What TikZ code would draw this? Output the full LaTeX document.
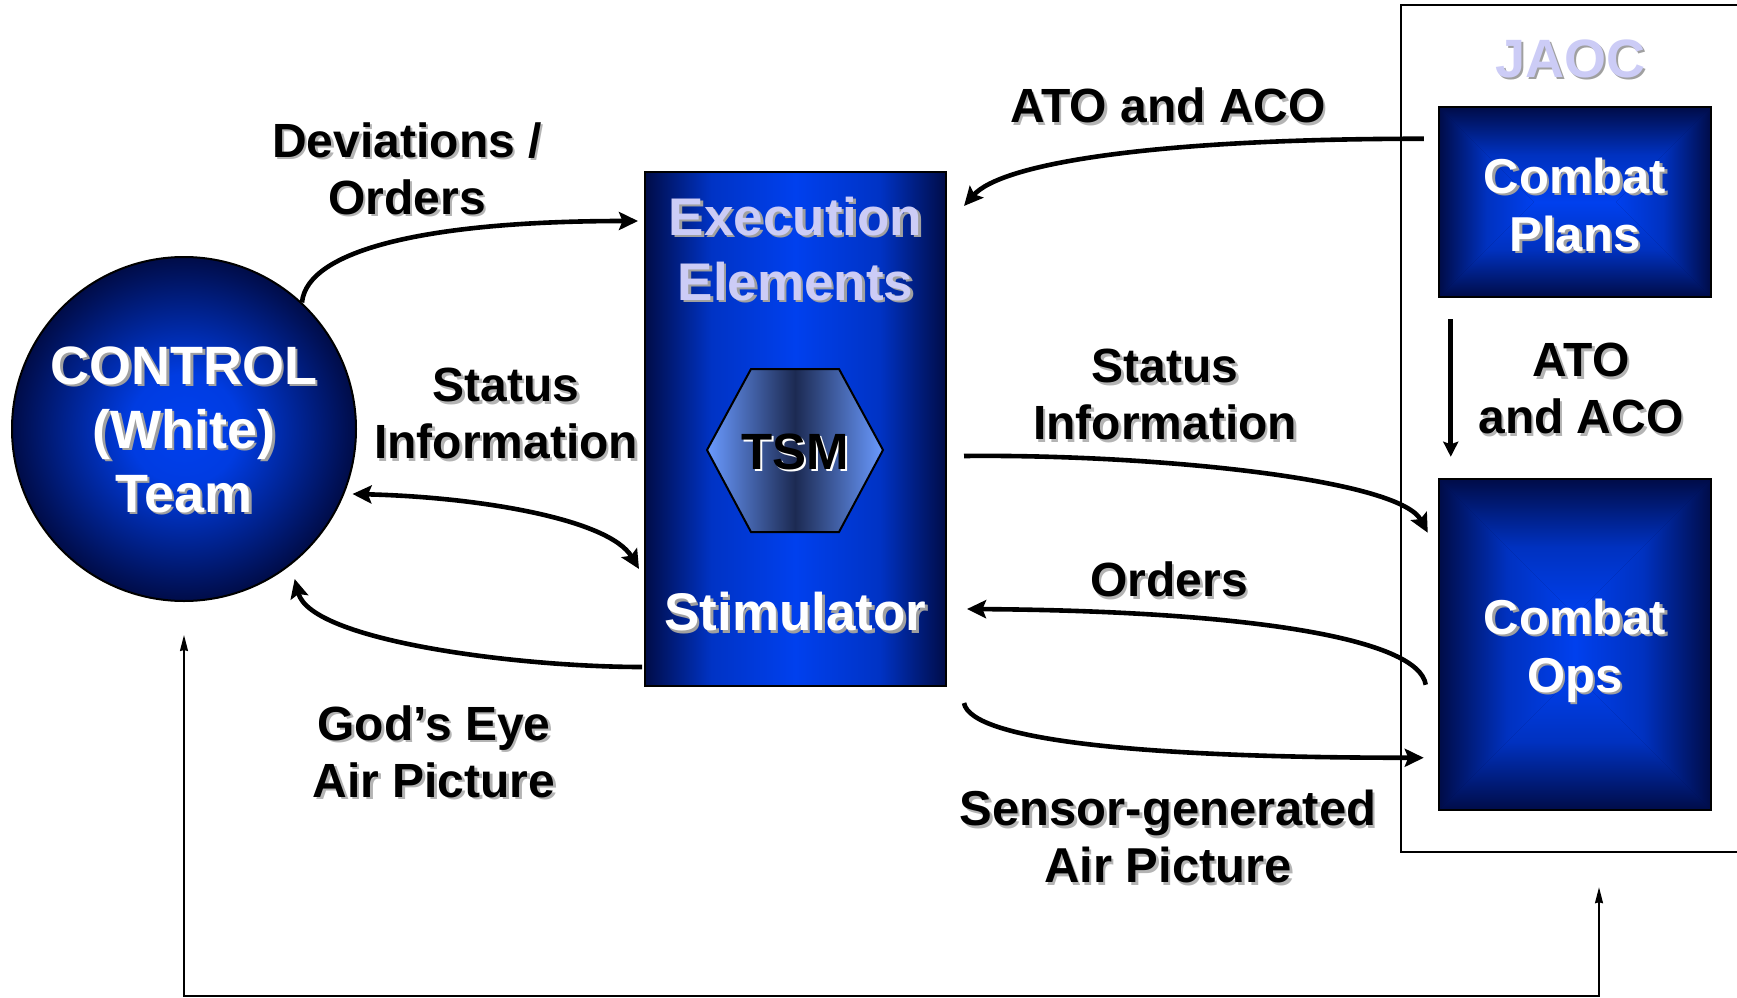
\documentclass[tikz,border=0pt]{standalone}
\usepackage{fontspec}
\setmainfont{Liberation Sans}
\usetikzlibrary{calc,arrows.meta}

\definecolor{navy}{HTML}{000C48}
\definecolor{brightblue}{HTML}{0040EE}
\definecolor{lav}{HTML}{CCCCF6}
\definecolor{boxsh}{HTML}{A0A0A0}
\definecolor{lblsh}{HTML}{B4B4B4}
\definecolor{hexlight}{HTML}{6A9AFF}
\definecolor{hexdark}{HTML}{1C2A52}

% text with a soft offset copy behind it
\newcommand\shadowed[2]{\makebox[0pt][l]{\hspace{2.5pt}\raisebox{-2.5pt}{\color{#1}#2}}#2}
\newcommand\lbltxt[1]{\shadowed{lblsh}{#1}}
\newcommand\boxtxt[1]{\shadowed{boxsh}{#1}}

% rectangular glow: four wedges shaded from the rim inwards
% #1,#2 = top left corner, #3,#4 = bottom right corner, #5 = depth
\newcommand\frameglow[5]{%
  \fill[navy] (#1,#2) rectangle (#3,#4);
  \path[top color=navy,bottom color=brightblue,middle color=brightblue!72!navy]
    (#1,#2) -- (#3,#2) -- ({#3-#5},{#2+#5}) -- ({#1+#5},{#2+#5}) -- cycle;
  \path[bottom color=navy,top color=brightblue,middle color=brightblue!72!navy]
    (#1,#4) -- (#3,#4) -- ({#3-#5},{#4-#5}) -- ({#1+#5},{#4-#5}) -- cycle;
  \path[left color=navy,right color=brightblue,middle color=brightblue!72!navy]
    (#1,#2) -- ({#1+#5},{#2+#5}) -- ({#1+#5},{#4-#5}) -- (#1,#4) -- cycle;
  \path[right color=navy,left color=brightblue,middle color=brightblue!72!navy]
    (#3,#2) -- ({#3-#5},{#2+#5}) -- ({#3-#5},{#4-#5}) -- (#3,#4) -- cycle;}

\pgfdeclarehorizontalshading{exeshade}{100bp}{%
  color(0bp)=(navy); color(25bp)=(navy); color(36bp)=(brightblue!75!navy);
  color(50bp)=(brightblue); color(64bp)=(brightblue!75!navy);
  color(75bp)=(navy); color(100bp)=(navy)}
\pgfdeclareradialshading{discglow}{\pgfpoint{0bp}{0bp}}{%
  color(0bp)=(brightblue); color(8bp)=(brightblue!92!navy);
  color(25bp)=(navy); color(50bp)=(navy)}

\begin{document}
\begin{tikzpicture}[x=1pt,y=-1pt,
  headtip/.tip={Stealth[length=19pt,width=18pt,inset=3.5pt]},
  smalltip/.tip={Stealth[length=15pt,width=15pt,inset=2.5pt]},
  thintip/.tip={Stealth[length=16pt,width=8pt,inset=1pt]},
  flow/.style={line width=4.6pt,-headtip},
  twoway/.style={line width=4.6pt,headtip-headtip},
  lbl/.style={font=\fontsize{48}{57}\selectfont\bfseries,align=center,inner sep=0pt,text=black},
  bluebox/.style={draw=black,line width=2.5pt,inner sep=0pt},
  wtext/.style={text=white,align=center,inner sep=0pt}]

\useasboundingbox (0,0) rectangle (1737,998);

% JAOC frame and its two cells
\node[draw=black,line width=2.5pt,minimum width=344pt,minimum height=847pt,inner sep=0pt] (jaoc) at (1573,428.5) {};
\node[font=\fontsize{54}{64}\selectfont\bfseries,text=lav,inner sep=0pt] (jaoctitle) at (1570,60) {\shadowed{boxsh}{JAOC}};

\frameglow{1439}{107}{1711}{297}{95}
\node[bluebox,minimum width=272pt,minimum height=190pt] (cp) at (1575,202) {};
\node[wtext,font=\fontsize{49}{58}\selectfont\bfseries] (cptext) at (1575,206) {\boxtxt{Combat}\\\boxtxt{Plans}};

\frameglow{1439}{479}{1711}{810}{136}
\node[bluebox,minimum width=272pt,minimum height=331pt] (co) at (1575,644.5) {};
\node[wtext,font=\fontsize{49}{58}\selectfont\bfseries] (cotext) at (1575,652) {\boxtxt{Combat}\\\boxtxt{Ops}};

% control team disc
\node[circle,draw=black,line width=2pt,minimum size=344pt,inner sep=0pt,shade,shading=discglow] (ctrl) at (184,429) {};
\node[wtext,font=\fontsize{54}{64}\selectfont\bfseries] (ctrltext) at (184,431) {\boxtxt{CONTROL}\\\boxtxt{(White)}\\\boxtxt{Team}};

% execution elements column with the TSM hexagon
\node[bluebox,shade,shading=exeshade,line width=2pt,minimum width=301pt,minimum height=514pt] (exe) at (795.5,429) {};
\node[font=\fontsize{53}{65}\selectfont\bfseries,text=lav,align=center,inner sep=0pt] (exetitle) at (795.5,250) {\boxtxt{Execution}\\\boxtxt{Elements}};
\node[wtext,font=\fontsize{53}{65}\selectfont\bfseries] (stim) at (795.5,613) {\boxtxt{Stimulator}};
\path[draw=black,line width=2pt,left color=hexlight,right color=hexlight,middle color=hexdark]
  (707,450) -- (751,369) -- (839,369) -- (883,450) -- (839,532) -- (751,532) -- cycle;
\node[font=\fontsize{51}{60}\selectfont\bfseries,text=black,inner sep=0pt] (tsm) at (795,453) {\shadowed{white}{TSM}};

% flow labels
\node[lbl] (devlbl) at (407,170) {\lbltxt{Deviations /}\\\lbltxt{Orders}};
\node[lbl] (statl) at (506,415) {\lbltxt{Status}\\\lbltxt{Information}};
\node[lbl] (godlbl) at (434,753) {\lbltxt{God’s Eye}\\\lbltxt{Air Picture}};
\node[lbl] (atolbl) at (1168,107) {\lbltxt{ATO and ACO}};
\node[lbl] (statr) at (1165,396) {\lbltxt{Status}\\\lbltxt{Information}};
\node[lbl] (ordlbl) at (1169,581) {\lbltxt{Orders}};
\node[lbl,font=\fontsize{49}{57}\selectfont\bfseries] (senslbl) at (1168,838) {\lbltxt{Sensor-generated}\\\lbltxt{Air Picture}};
\node[lbl] (atoin) at (1581,390) {\lbltxt{ATO}\\\lbltxt{and ACO}};

% flows between the elements
\draw[flow] (ctrl.47) .. controls +(5,-53) and +(-209,0) .. ($(exe.north west)+(-6,50)$);
\draw[twoway] ($(ctrl.-21)+(7,3)$) .. controls +(126,3) and +(-30,-50) .. ($(exe.north west)+(-5,398)$);
\draw[flow] ($(exe.south west)+(-2,-20)$) .. controls +(-123,0) and +(16,62) .. ($(ctrl.-54)+(9,10)$);
\draw[flow] ($(cp.north west)+(-14,33)$) .. controls +(-275,0) and +(37,-42) .. ($(exe.north east)+(17,35)$);
\draw[flow] ($(exe.north east)+(17,285)$) .. controls +(187,-2) and +(-29,-54) .. ($(co.north west)+(-10,55)$);
\draw[flow] ($(co.north west)+(-12,207)$) .. controls +(-7,-46) and +(284,2) .. ($(exe.north east)+(20,438)$);
\draw[flow] ($(exe.south east)+(17,16)$) .. controls +(7,38) and +(-275,0) .. ($(co.north west)+(-14,280)$);
\draw[line width=5pt,-smalltip] ($(cp.south west)+(13,21)$) -- ($(co.north west)+(13,-21)$);

% loop along the bottom between the control team and the JAOC
\draw[line width=1.6pt,thintip-thintip] ($(ctrl.south)+(0,33)$) -- ++(0,361) -| ($(jaoc.south)+(26,34)$);
\end{tikzpicture}
\end{document}
